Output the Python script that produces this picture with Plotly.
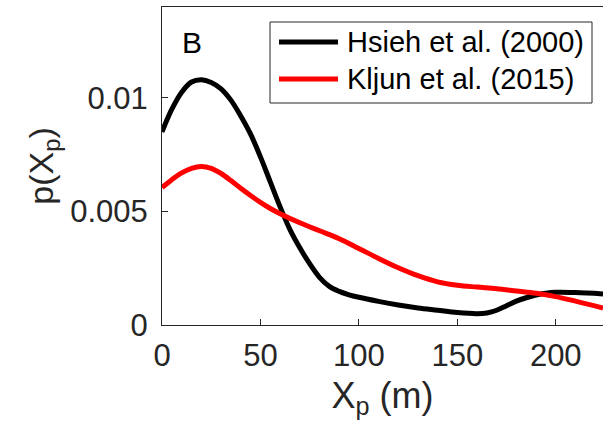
import plotly.graph_objects as go

x_hsieh = [0, 5, 10, 15, 20, 25, 30, 35, 40, 45, 50, 55, 60, 65, 70, 75, 80, 85, 90, 95, 100,
           110, 120, 130, 140, 150, 160, 165, 170, 175, 180, 185, 190, 195, 200, 210, 224]
y_hsieh = [0.0085, 0.0095, 0.01025, 0.0107, 0.0108, 0.01068, 0.0104, 0.0099, 0.0092, 0.0084,
           0.0074, 0.0063, 0.0052, 0.0042, 0.0034, 0.0027, 0.0021, 0.0017, 0.00148, 0.00133,
           0.00122, 0.00104, 0.00088, 0.00075, 0.00065, 0.00055, 0.0005, 0.00053, 0.00065,
           0.00085, 0.00105, 0.0012, 0.00132, 0.0014, 0.00144, 0.00143, 0.00137]

x_kljun = [0, 5, 10, 15, 20, 25, 30, 35, 40, 45, 50, 55, 60, 70, 80, 90, 100, 110, 120, 130,
           140, 150, 160, 170, 180, 190, 200, 210, 224]
y_kljun = [0.00605, 0.0064, 0.0067, 0.0069, 0.00698, 0.0069, 0.00667, 0.00636, 0.00602, 0.0057,
           0.0054, 0.00513, 0.0049, 0.0045, 0.00415, 0.0038, 0.00337, 0.00293, 0.00252, 0.00217,
           0.0019, 0.00175, 0.00167, 0.0016, 0.0015, 0.0014, 0.00125, 0.00105, 0.00075]

names = ["Hsieh et al. (2000)", "Kljun et al. (2015)"]
colors = ["#000000", "#ff0000"]

x_ticks = [0, 50, 100, 150, 200]
y_ticks = [0, 0.005, 0.01]
y_ticklabels = ["0", "0.005", "0.01"]

FONT = "Liberation Sans, Arial, Helvetica, sans-serif"
AX = "#262626"

fig = go.Figure()
for xs, ys, c, n in [(x_hsieh, y_hsieh, colors[0], names[0]), (x_kljun, y_kljun, colors[1], names[1])]:
    fig.add_trace(go.Scatter(x=xs, y=ys, mode="lines", name=n,
                             line=dict(color=c, width=5, shape="spline", smoothing=1.0),
                             showlegend=False))

fig.update_layout(
    width=603, height=436,
    margin=dict(l=162, r=0, t=7, b=111),
    paper_bgcolor="white", plot_bgcolor="white",
    font=dict(family=FONT, color=AX, size=31),
    xaxis=dict(range=[0, 224], tickvals=x_ticks, ticks="inside", ticklen=6, tickcolor=AX,
               showline=True, linecolor=AX, linewidth=1, mirror=True, showgrid=False,
               zeroline=False, tickfont=dict(size=31, color=AX), ticklabelstandoff=3,
               title=dict(text="X<sub>p</sub> (m)", font=dict(size=36, color=AX), standoff=10)),
    yaxis=dict(range=[0, 0.014], tickvals=y_ticks, ticktext=y_ticklabels, ticks="inside",
               ticklen=6, tickcolor=AX, showline=True, linecolor=AX, linewidth=1, mirror=True,
               showgrid=False, zeroline=False, tickfont=dict(size=31, color=AX),
               ticklabelstandoff=7,
               title=dict(text="p(X<sub>p</sub>)", font=dict(size=34, color=AX), standoff=6)),
)

# "B" panel label
fig.add_annotation(xref="paper", yref="paper", x=(192 - 162) / 441, y=(325 - 43) / 318,
                   text="B", showarrow=False, font=dict(size=30, color="#000000"),
                   xanchor="center", yanchor="middle")

# Manual legend box
lx0, lx1 = (270 - 162) / 441, (592 - 162) / 441
ly1, ly0 = (325 - 22) / 318, (325 - 103) / 318
fig.add_shape(type="rect", xref="paper", yref="paper", x0=lx0, x1=lx1, y0=ly0, y1=ly1,
              line=dict(color=AX, width=1), fillcolor="white", layer="above")
rows = [(325 - 42) / 318, (325 - 79) / 318]
for yy, c, n in zip(rows, colors, names):
    fig.add_shape(type="line", xref="paper", yref="paper",
                  x0=(279 - 162) / 441, x1=(338 - 162) / 441, y0=yy, y1=yy,
                  line=dict(color=c, width=5), layer="above")
    fig.add_annotation(xref="paper", yref="paper", x=(345 - 162) / 441, y=yy, text=n,
                       showarrow=False, xanchor="left", yanchor="middle",
                       font=dict(size=29, color="#000000"))

fig.write_html("out.html")
